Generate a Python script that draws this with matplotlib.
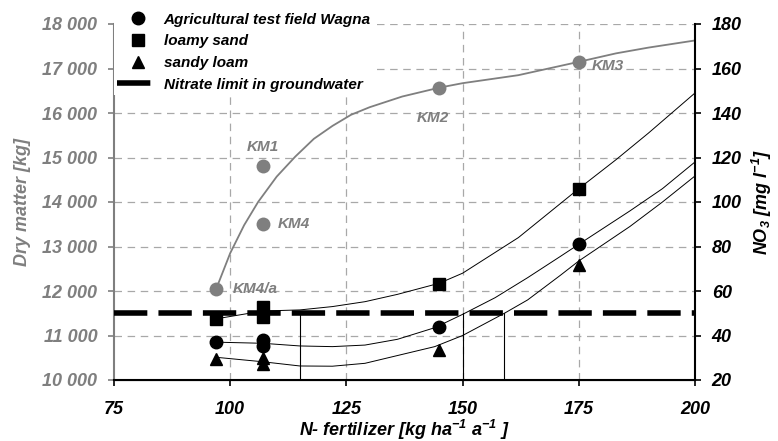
import matplotlib
matplotlib.use('Agg')
import matplotlib.pyplot as plt
from matplotlib.ticker import FuncFormatter

plt.rcParams['font.family'] = ['Liberation Sans', 'DejaVu Sans']
plt.rcParams['font.weight'] = 'bold'
plt.rcParams['font.style'] = 'italic'
plt.rcParams['mathtext.fontset'] = 'custom'
plt.rcParams['mathtext.rm'] = 'Liberation Sans:bold:italic'
plt.rcParams['mathtext.it'] = 'Liberation Sans:bold:italic'
plt.rcParams['mathtext.bf'] = 'Liberation Sans:bold:italic'

# dry matter, left axis
km_x = [97, 107, 107, 145, 175]
km_dm = [12050, 14800, 13500, 16570, 17150]
km_names = ['KM4/a', 'KM1', 'KM4', 'KM2', 'KM3']
dm_fit_x = [97, 100, 103, 106, 110, 114, 118, 122, 126, 130, 137, 145, 150, 162, 175, 183, 190, 200]
dm_fit_y = [12050, 12850, 13480, 14000, 14570, 15020, 15420, 15710, 15960, 16130, 16370,
            16570, 16670, 16850, 17150, 17340, 17470, 17630]

# nitrate, right axis
wagna_x = [97, 107, 107, 145, 175]
wagna_no3 = [37, 38.1, 35.5, 44, 81]
loamy_x = [97, 107, 107, 145, 175]
loamy_no3 = [47.2, 52.8, 48.3, 63, 105.7]
sandy_x = [97, 107, 107, 145, 175]
sandy_no3 = [29.3, 29.8, 27.4, 33.6, 71.7]

wagna_fit_x = [97, 107, 115, 122, 129, 136, 144, 150, 157, 164, 171, 175, 186, 193, 200]
wagna_fit_y = [37, 36.5, 35.3, 35, 35.7, 38.3, 43.5, 49.5, 57, 66, 75.5, 81, 96, 106, 118]
loamy_fit_x = [97, 107, 115, 122, 129, 136, 145, 150, 162, 175, 183, 190, 200]
loamy_fit_y = [47.5, 51, 51.5, 53, 55.2, 58.5, 63.5, 68, 84, 106, 119, 131, 149]
sandy_fit_x = [97, 107, 115, 122, 129, 136, 144, 150, 159, 164, 171, 175, 186, 193, 200]
sandy_fit_y = [30.2, 28.2, 26.3, 26.2, 27.5, 31, 35, 40, 50, 56, 67, 73.5, 89, 100, 111.7]

nitrate_limit = 50
limit_hits = [115, 150, 159]

x_ticks = [75, 100, 125, 150, 175, 200]

gray = '#7f7f7f'
fig = plt.figure(figsize=(7.78, 4.41), dpi=100)
ax = fig.add_axes([114 / 778, 1 - 380 / 441, (695 - 114) / 778, (380 - 24) / 441])
ax2 = ax.twinx()

ax.set_xlim(75, 200)
ax.set_ylim(10000, 18000)
ax2.set_ylim(20, 180)
ax.set_xticks(x_ticks)
ax.set_yticks(range(10000, 18001, 1000))
ax2.set_yticks(range(20, 181, 20))
ax.yaxis.set_major_formatter(FuncFormatter(lambda v, p: f'{int(v):,}'.replace(',', ' ')))

# grid
for v in range(11000, 18001, 1000):
    ax.axhline(v, color='#a8a8a8', lw=0.9, ls=(0, (6, 4.5)), zorder=0)
for v in x_ticks[1:-1]:
    ax.axvline(v, color='#a8a8a8', lw=0.9, ls=(0, (6, 4.5)), zorder=0)

# gray dry matter curve + points
ax.plot(dm_fit_x, dm_fit_y, color=gray, lw=1.3)
ax.plot(km_x, km_dm, 'o', color=gray, ms=10, mec='none')
offsets = [(12, 0, 'left', 'center'), (0, 14, 'center', 'center'), (11, 0, 'left', 'center'),
           (-5, -22, 'center', 'center'), (9, -3, 'left', 'center')]
for x, y, name, (dx, dy, ha, va) in zip(km_x, km_dm, km_names, offsets):
    ax.annotate(name, (x, y), xytext=(dx, dy), textcoords='offset points',
                ha=ha, va=va, color=gray, fontsize=11)

# nitrate curves
for fx, fy in [(wagna_fit_x, wagna_fit_y), (loamy_fit_x, loamy_fit_y), (sandy_fit_x, sandy_fit_y)]:
    ax2.plot(fx, fy, color='black', lw=0.7)
for hx in limit_hits:
    ax2.plot([hx, hx], [20, nitrate_limit], color='black', lw=0.8)
h1, = ax2.plot(wagna_x, wagna_no3, 'o', color='black', ms=9, label='Agricultural test field Wagna')
h2, = ax2.plot(loamy_x, loamy_no3, 's', color='black', ms=8.5, label='loamy sand')
h3, = ax2.plot(sandy_x, sandy_no3, '^', color='black', ms=9, label='sandy loam')
h4, = ax2.plot([75, 200], [nitrate_limit, nitrate_limit], color='black', lw=4,
               ls=(0, (6, 2)), clip_on=False, label='Nitrate limit in groundwater')

leg = ax2.legend(handles=[h1, h2, h3, h4], loc='upper left', bbox_to_anchor=(0.0, 1.04),
                 fontsize=11, frameon=True, fancybox=False, edgecolor='none', framealpha=1,
                 handlelength=2.8, handletextpad=0.25, labelspacing=0.5, borderpad=0.2,
                 borderaxespad=0)

# spines and ticks
ax.spines['top'].set_visible(False)
ax2.spines['top'].set_visible(False)
ax.spines['right'].set_visible(False)
ax2.spines['left'].set_visible(False)
ax.spines['left'].set_color(gray)
ax.spines['left'].set_linewidth(1.5)
ax2.spines['right'].set_linewidth(1.5)
ax.spines['bottom'].set_linewidth(1.5)
ax.tick_params(axis='y', colors=gray, labelsize=13, length=4, width=1.2, pad=8)
ax.tick_params(axis='x', labelsize=13, length=4, width=1.2, pad=11)
ax2.tick_params(axis='y', labelsize=13, length=4, width=1.2, pad=8)

ax.set_xlabel('N- fertilizer [kg ha$^{-1}$ a$^{-1}$ ]', fontsize=13, fontweight='bold', labelpad=0)
ax.set_ylabel('Dry matter [kg]', fontsize=13, fontweight='bold', color=gray, labelpad=8)
ax2.set_ylabel('NO$_3$ [mg l$^{-1}$]', fontsize=13, fontweight='bold', labelpad=6)

fig.savefig('out.png', dpi=100)
